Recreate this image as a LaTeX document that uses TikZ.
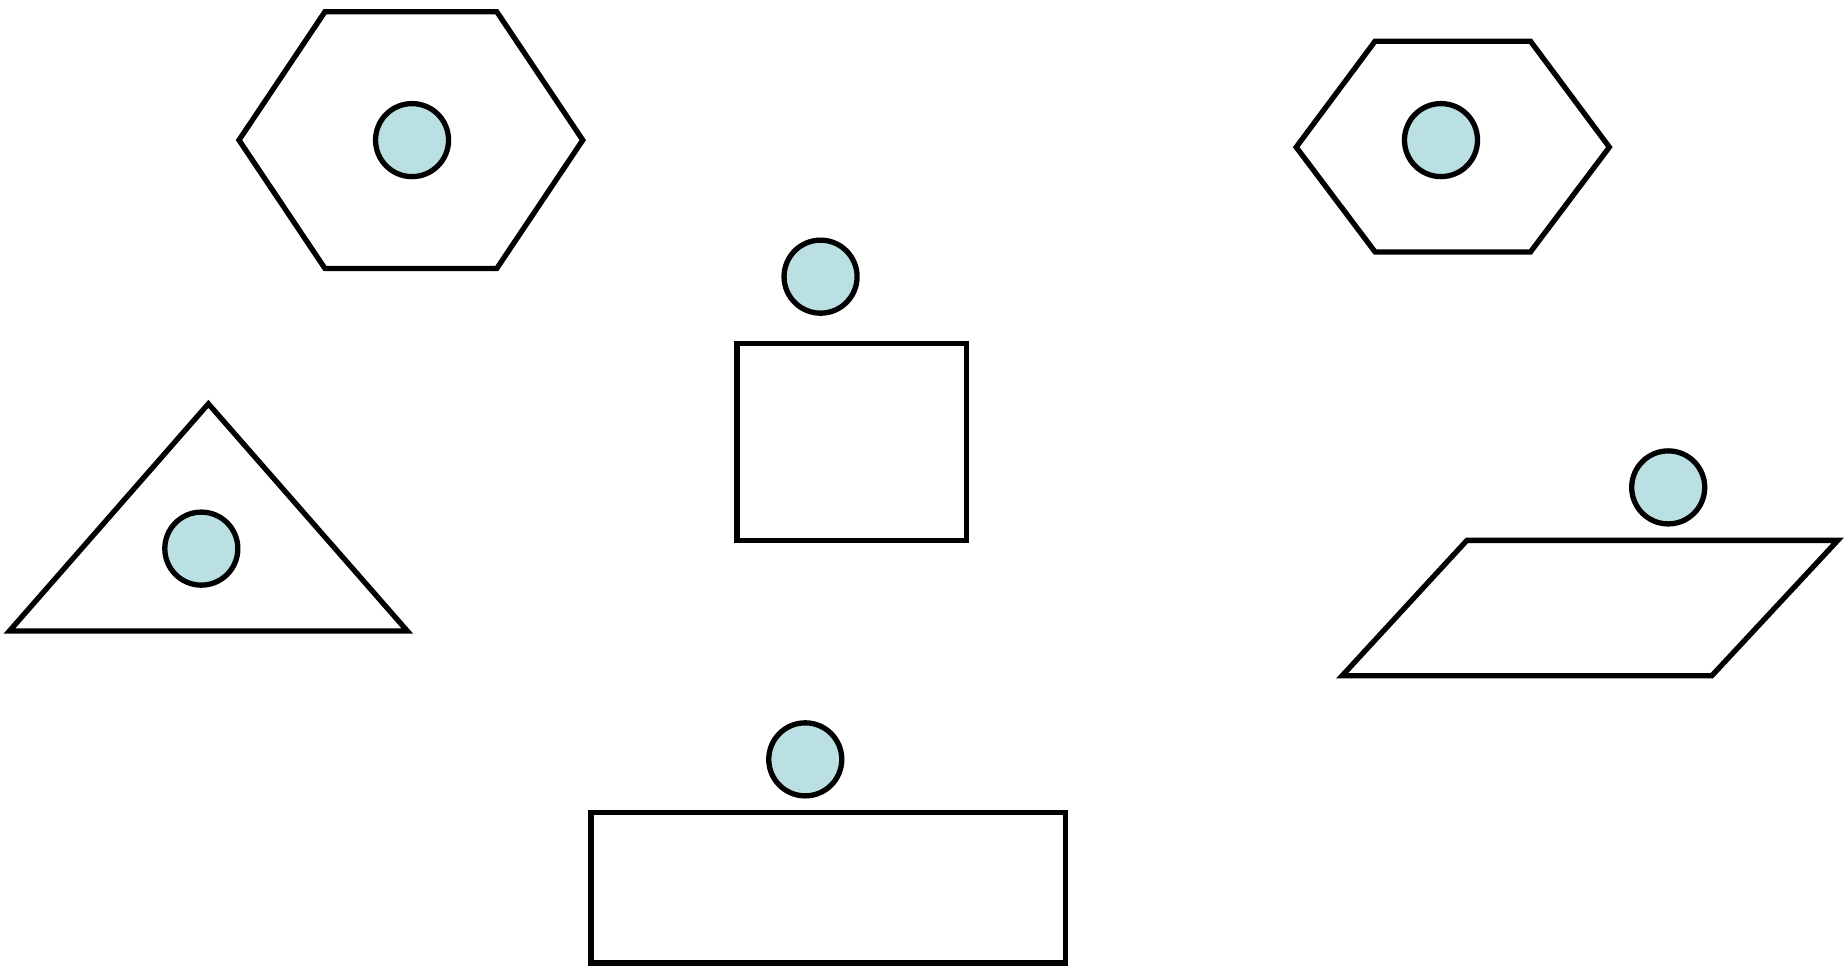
\documentclass[tikz,border=0pt]{standalone}
\usepackage{tikz}
\usetikzlibrary{positioning}
\usetikzlibrary{calc}
\definecolor{ballblue}{RGB}{187,224,227}
\tikzset{
ball/.style = {circle, draw, fill=ballblue, minimum size=#1,
              inner sep=0pt, outer sep=0pt},
ball/.default = 0.62cm % diameter of the ball
}
\newcommand{\ball}[2]{\node[ball] (#1) at (#2) {};}
\newcommand{\outline}[1]{\draw[line join=miter] #1 -- cycle;}

\begin{document}
\begin{tikzpicture}[x=0.01cm, y=-0.01cm, line width=0.045cm]
        \useasboundingbox (0,0) rectangle (1568,821);
        % hexagons
        \outline{(276,10) -- (422,10) -- (495,119) -- (422,228) -- (276,228) -- (203,119)};
        \outline{(1168,35) -- (1300,35) -- (1367,125) -- (1300,214) -- (1168,214) -- (1101,125)};
        % triangle
        \outline{(8,536) -- (177,343) -- (346,536)};
        % boxes
        \outline{(626,292) -- (821,292) -- (821,459) -- (626,459)};
        \outline{(502,690) -- (905,690) -- (905,818) -- (502,818)};
        % parallelogram
        \outline{(1246,459) -- (1561,459) -- (1454,574) -- (1140,574)};
        \ball{b1}{350,119};
        \ball{b2}{1224,119};
        \ball{b3}{697,235};
        \ball{b4}{171,466};
        \ball{b5}{1417,414};
        \ball{b6}{684,645};
        \end{tikzpicture}
\end{document}
